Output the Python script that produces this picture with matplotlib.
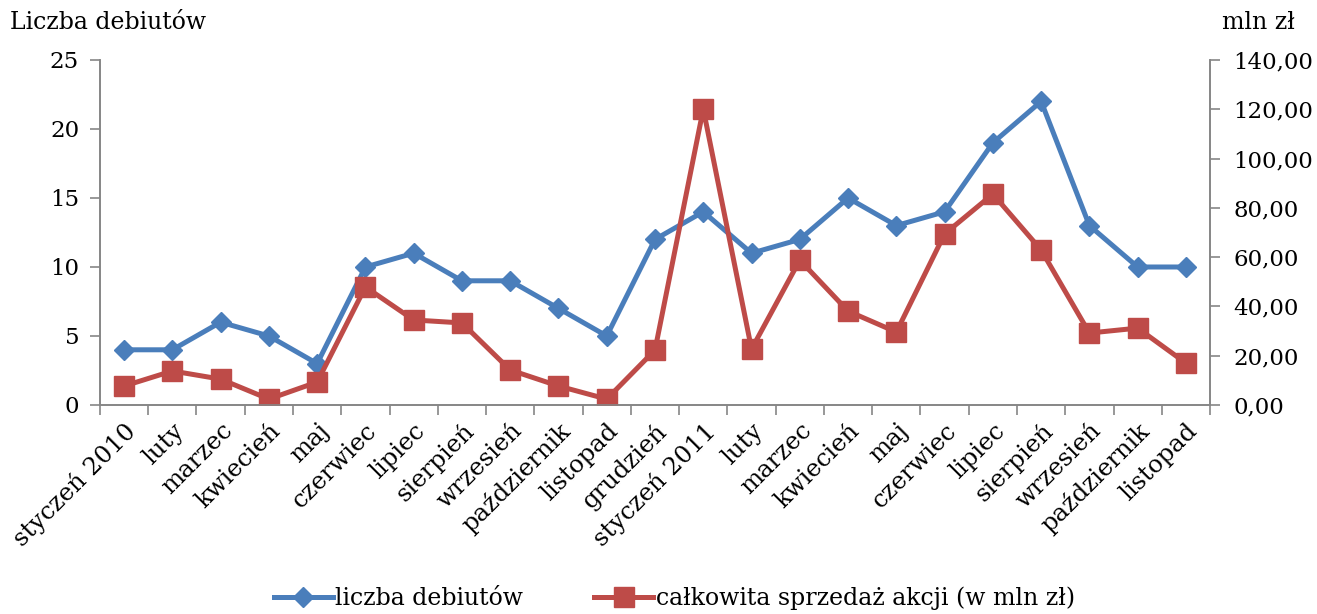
import matplotlib
matplotlib.use('Agg')
import matplotlib.pyplot as plt
from matplotlib.ticker import FuncFormatter

# data
months = ['styczeń 2010', 'luty', 'marzec', 'kwiecień', 'maj', 'czerwiec', 'lipiec',
          'sierpień', 'wrzesień', 'październik', 'listopad', 'grudzień', 'styczeń 2011',
          'luty', 'marzec', 'kwiecień', 'maj', 'czerwiec', 'lipiec', 'sierpień',
          'wrzesień', 'październik', 'listopad']
debiuty = [4, 4, 6, 5, 3, 10, 11, 9, 9, 7, 5, 12, 14, 11, 12, 15, 13, 14, 19, 22, 13, 10, 10]
sprzedaz = [7.7, 13.8, 10.5, 2.4, 9.3, 47.9, 34.5, 33.3, 14.2, 7.7, 2.4, 22.3, 120.1,
            22.7, 58.8, 38.1, 29.6, 69.4, 85.6, 62.9, 29.2, 31.2, 17.0]

plt.rcParams['font.family'] = ['DejaVu Serif']
plt.rcParams['font.size'] = 16.5
blue = '#4A7EBB'
red = '#BE4B48'
grey = '#868686'

fig = plt.figure(figsize=(13.17, 6.14), dpi=100)
ax = fig.add_axes([0.0759, 0.3404, 0.8429, 0.5619])
ax2 = ax.twinx()

x = list(range(len(months)))
l1, = ax.plot(x, debiuty, color=blue, lw=3.6, marker='D', ms=10.5, label='liczba debiutów')
l2, = ax2.plot(x, sprzedaz, color=red, lw=3.6, marker='s', ms=14, label='całkowita sprzedaż akcji (w mln zł)')

ax.set_xlim(-0.5, len(months) - 0.5)
ax.set_ylim(0, 25)
ax.set_yticks([0, 5, 10, 15, 20, 25])
ax2.set_ylim(0, 140)
ax2.set_yticks(range(0, 141, 20))
ax2.yaxis.set_major_formatter(FuncFormatter(lambda v, p: f'{v:.2f}'.replace('.', ',')))

ax.set_xticks([i - 0.5 for i in range(len(months) + 1)])
ax.set_xticklabels([])
ax.set_xticks(x, minor=True)
ax.set_xticklabels(months, minor=True, rotation=45, ha='right', va='top', rotation_mode='anchor',
                   fontsize=17.5)
ax.tick_params(axis='x', which='minor', length=0, pad=10)
ax.tick_params(axis='x', which='major', length=7, color=grey, width=1.2)
ax.tick_params(axis='y', length=7, color=grey, width=1.2, pad=8)
ax2.tick_params(axis='y', length=7, color=grey, width=1.2, pad=10)

for a in (ax, ax2):
    a.spines['top'].set_visible(False)
    for s in ('left', 'right', 'bottom'):
        a.spines[s].set_color(grey)
        a.spines[s].set_linewidth(1.2)

fig.text(0.0076, 0.964, 'Liczba debiutów', fontsize=17, va='center', ha='left')
fig.text(0.928, 0.964, 'mln zł', fontsize=17, va='center', ha='left')

fig.legend([l1, l2], [l1.get_label(), l2.get_label()], loc='center', bbox_to_anchor=(0.512, 0.025),
           ncol=2, frameon=False, fontsize=17, handlelength=2.5, columnspacing=3, handletextpad=0.1)

plt.savefig('out.png', dpi=100)
